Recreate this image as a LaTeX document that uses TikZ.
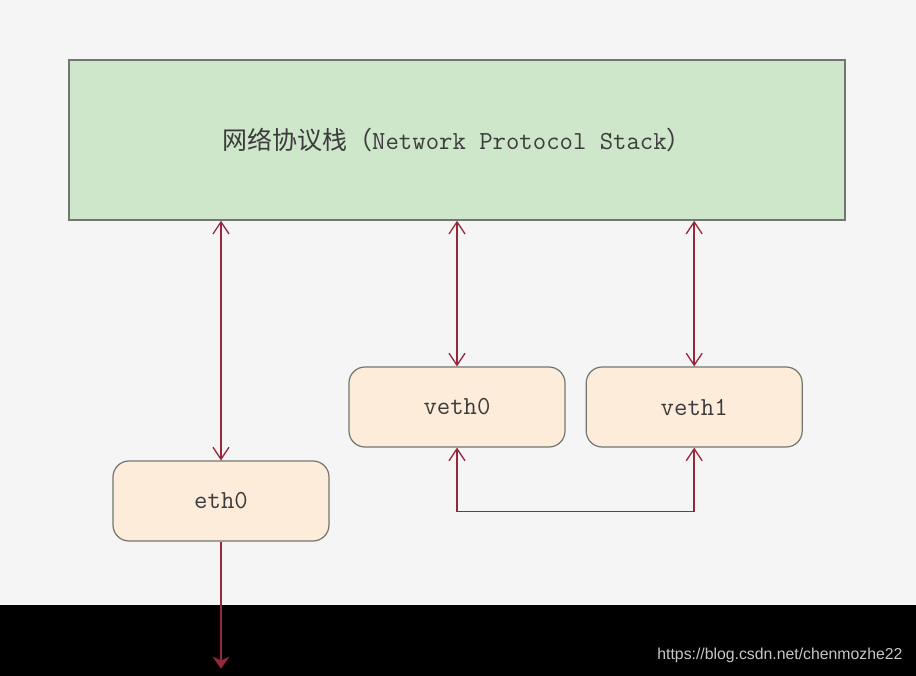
\documentclass[tikz,border=0pt]{standalone}
\usepackage{fontspec}
\newfontfamily\cjkfont{Noto Sans CJK SC}
\newfontfamily\wmfont{Liberation Sans}
\usetikzlibrary{arrows.meta,positioning}
\definecolor{stackgreen}{RGB}{206,230,201}
\definecolor{ifpeach}{RGB}{253,236,217}
\definecolor{linkred}{RGB}{150,40,62}
\definecolor{boxgray}{RGB}{115,118,112}
\definecolor{txtgray}{RGB}{60,60,60}
\definecolor{bggray}{RGB}{245,245,245}

\begin{document}
\begin{tikzpicture}[
    x=1pt, y=-1pt,
    node distance=20pt,
    stackbox/.style={
      rectangle, draw=boxgray, fill=stackgreen, line width=1.5pt,
      minimum width=776pt, minimum height=160pt,
      font=\ttfamily\fontsize{26}{30}\selectfont, text=txtgray
    },
    ifbox/.style={
      rectangle, rounded corners=16pt, draw=boxgray, fill=ifpeach,
      line width=1.2pt, minimum width=216pt, minimum height=80pt,
      font=\ttfamily\fontsize{26}{30}\selectfont, text=txtgray
    },
    link/.style={
      {Straight Barb[length=12pt,width=16pt,line width=1.3pt]}-{Straight Barb[length=12pt,width=16pt,line width=1.3pt]},
      line width=1.5pt, linkred
    },
    wire/.style={
      -{Stealth[length=12pt,width=17pt]}, line width=1.5pt, linkred
    }
  ]
  \useasboundingbox (0,0) rectangle (916,676);
  \fill[bggray] (0,0) rectangle (916,676);

  % --- protocol stack and interfaces ---
  \node[stackbox] (stack) at (457,140)
    {{\cjkfont\fontsize{25}{30}\selectfont 网络协议栈（}Network Protocol Stack{\cjkfont\fontsize{25}{30}\selectfont ）}};
  \node[ifbox] (veth0) at (457,407) {veth0};
  \node[ifbox, right=of veth0] (veth1) {veth1};
  \node[ifbox] (eth0) at (221,501) {eth0};

  % --- black band with watermark ---
  \fill[black] (0,605) rectangle (916,676);
  \node[font=\wmfont\fontsize{15.8}{20}\selectfont, text=black!22, anchor=east]
    (mark) at (906,655) {https://blog.csdn.net/chenmozhe22};

  % --- connections ---
  \draw[link] (eth0.north |- stack.south) -- (eth0.north);
  \draw[link] (veth0.north |- stack.south) -- (veth0.north);
  \draw[link] (veth1.north |- stack.south) -- (veth1.north);
  \draw[link] (veth0.south) -- ++(0,64) -| (veth1.south);

  \coordinate (out) at ([yshift=-127pt]eth0.south);
  \draw[wire] (eth0.south) -- (out);
\end{tikzpicture}
\end{document}
